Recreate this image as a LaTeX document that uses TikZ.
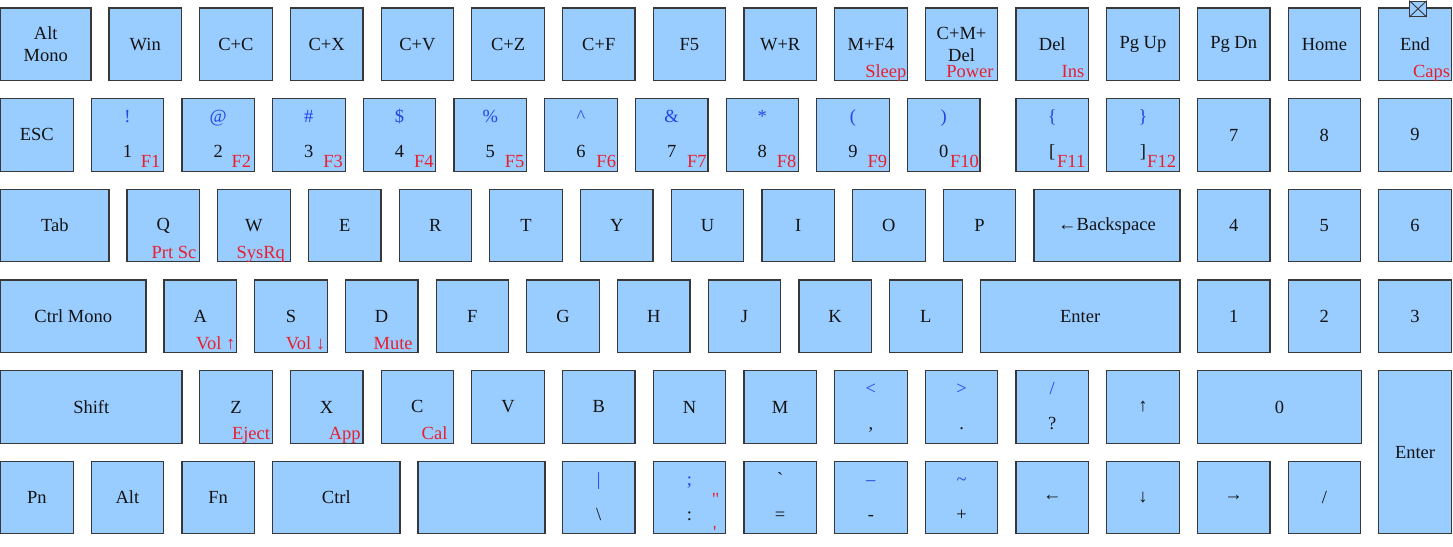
\documentclass[tikz,border=0pt]{standalone}
\usepackage{fontspec}
\setmainfont{Liberation Serif}
\definecolor{keyfill}{HTML}{99CCFF}
\definecolor{keyline}{HTML}{383838}
\definecolor{keytext}{HTML}{141414}
\definecolor{keyred}{HTML}{E8202E}
\definecolor{keyblue}{HTML}{2244E6}
\tikzset{
  key/.style={draw=keyline, fill=keyfill, line width=1.2pt, anchor=north west,
    inner sep=0pt, outer sep=0pt, align=center,
    font=\fontsize{18.5}{22}\selectfont, text=keytext},
  redtxt/.style={font=\fontsize{18.5}{22}\selectfont, text=keyred, inner sep=0pt},
  bluetxt/.style={font=\fontsize{18.5}{22}\selectfont, text=keyblue, inner sep=0pt},
  blktxt/.style={font=\fontsize{18.5}{22}\selectfont, text=keytext, inner sep=0pt},
}
% key: name, x, y, width, height, text
\newcommand\kk[6]{\node[key,minimum width=#4pt,minimum height=#5pt] (#1) at (#2,#3) {#6};}
\newcommand\ks[4]{\kk{#1}{#2}{#3}{72.5}{72.5}{#4}}
% red label at bottom right
\newcommand\rl[3][2]{\node[redtxt,anchor=base east] (#2-r) at ([shift={(-#1pt,3.5pt)}]#2.south east) {#3};}
% top (blue) and bottom (black) symbols
\newcommand\ts[2]{\node[bluetxt,anchor=base] (#1-t) at ([yshift=-24pt]#1.north) {#2};}
\newcommand\tb[2]{\node[blktxt,anchor=base] (#1-t) at ([yshift=-24pt]#1.north) {#2};}
\newcommand\bs[2]{\node[blktxt,anchor=base] (#1-b) at ([yshift=-59pt]#1.north) {#2};}
\begin{document}
\begin{tikzpicture}[x=1pt,y=-1pt]
\useasboundingbox (0,0) rectangle (1453,546);
% ---------- row 1 ----------
\kk{altmono}{0.6}{8}{90.4}{72.5}{Alt\\Mono}
\ks{win}{109}{8}{Win}
\ks{cc}{109+90.7}{8}{C+C}
\ks{cx}{109+90.7*2}{8}{C+X}
\ks{cv}{109+90.7*3}{8}{C+V}
\ks{cz}{109+90.7*4}{8}{C+Z}
\ks{cf}{109+90.7*5}{8}{C+F}
\ks{ffive}{109+90.7*6}{8}{F5}
\ks{wr}{109+90.7*7}{8}{W+R}
\ks{mf}{109+90.7*8}{8}{M+F4}
\ks{cmd}{109+90.7*9}{8}{C+M+\\Del}
\ks{del}{109+90.7*10}{8}{Del}
\ks{pgup}{109+90.7*11}{8}{Pg Up}
\ks{pgdn}{109+90.7*12}{8}{Pg Dn}
\ks{home}{109+90.7*13}{8}{Home}
\ks{end}{109+90.7*14}{8}{End}
\rl[0.5]{mf}{Sleep}
\rl[4]{cmd}{Power}
\rl[4]{del}{Ins}
\rl[1]{end}{Caps}
\node[draw=keyline, fill=keyfill, line width=1pt, minimum width=16.5pt, minimum height=15.5pt,
  anchor=north west, inner sep=0pt] (env) at (1409.3,0.6) {};
\draw[keyline, line width=0.9pt] (env.north west) -- (env.south east) (env.north east) -- (env.south west);
% ---------- row 2 ----------
\ks{esc}{0.6}{98.7}{ESC}
\ks{n1}{0.5+90.7}{98.7}{}
\ks{n2}{0.5+90.7*2}{98.7}{}
\ks{n3}{0.5+90.7*3}{98.7}{}
\ks{n4}{0.5+90.7*4}{98.7}{}
\ks{n5}{0.5+90.7*5}{98.7}{}
\ks{n6}{0.5+90.7*6}{98.7}{}
\ks{n7}{0.5+90.7*7}{98.7}{}
\ks{n8}{0.5+90.7*8}{98.7}{}
\ks{n9}{0.5+90.7*9}{98.7}{}
\ks{n0}{0.5+90.7*10}{98.7}{}
\ks{lbr}{109+90.7*10}{98.7}{}
\ks{rbr}{109+90.7*11}{98.7}{}
\ks{pseven}{109+90.7*12}{98.7}{7}
\ks{peight}{109+90.7*13}{98.7}{8}
\ks{pnine}{109+90.7*14}{98.7}{9}
\ts{n1}{!}\bs{n1}{1}\rl[3]{n1}{F1}
\ts{n2}{@}\bs{n2}{2}\rl[3]{n2}{F2}
\ts{n3}{\#}\bs{n3}{3}\rl{n3}{F3}
\ts{n4}{\$}\bs{n4}{4}\rl{n4}{F4}
\ts{n5}{\%}\bs{n5}{5}\rl{n5}{F5}
\ts{n6}{\textasciicircum}\bs{n6}{6}\rl[1]{n6}{F6}
\ts{n7}{\&}\bs{n7}{7}\rl[1]{n7}{F7}
\ts{n8}{*}\bs{n8}{8}\rl{n8}{F8}
\ts{n9}{(}\bs{n9}{9}\rl{n9}{F9}
\ts{n0}{)}\bs{n0}{0}\rl[1]{n0}{F10}
\ts{lbr}{\{}\bs{lbr}{[}\rl[3]{lbr}{F11}
\ts{rbr}{\}}\bs{rbr}{]}\rl[3]{rbr}{F12}
% ---------- row 3 ----------
\kk{tab}{0.6}{189.3}{108.4}{72.5}{Tab}
\ks{q}{127}{189.3}{Q}
\ks{w}{127+90.7}{189.3}{W}
\ks{e}{127+90.7*2}{189.3}{E}
\ks{r}{127+90.7*3}{189.3}{R}
\ks{t}{127+90.7*4}{189.3}{T}
\ks{y}{127+90.7*5}{189.3}{Y}
\ks{u}{127+90.7*6}{189.3}{U}
\ks{i}{127+90.7*7}{189.3}{I}
\ks{o}{127+90.7*8}{189.3}{O}
\ks{p}{127+90.7*9}{189.3}{P}
\kk{bksp}{127+90.7*10}{189.3}{146}{72.5}{←Backspace}
\ks{pfour}{109+90.7*12}{189.3}{4}
\ks{pfive}{109+90.7*13}{189.3}{5}
\ks{psix}{109+90.7*14}{189.3}{6}
\rl[3]{q}{Prt Sc}
\rl[5]{w}{SysRq}
% ---------- row 4 ----------
\kk{ctrlmono}{0.6}{280}{145.4}{72.5}{Ctrl Mono}
\ks{a}{164}{280}{A}
\ks{s}{164+90.7}{280}{S}
\ks{d}{164+90.7*2}{280}{D}
\ks{f}{164+90.7*3}{280}{F}
\ks{g}{164+90.7*4}{280}{G}
\ks{h}{164+90.7*5}{280}{H}
\ks{j}{164+90.7*6}{280}{J}
\ks{k}{164+90.7*7}{280}{K}
\ks{l}{164+90.7*8}{280}{L}
\kk{enter}{164+90.7*9}{280}{199.7}{72.5}{Enter}
\ks{pone}{109+90.7*12}{280}{1}
\ks{ptwo}{109+90.7*13}{280}{2}
\ks{pthree}{109+90.7*14}{280}{3}
\rl[1]{a}{Vol ↑}
\rl[2]{s}{Vol ↓}
\rl[5]{d}{Mute}
% ---------- row 5 ----------
\kk{shift}{0.6}{370.7}{181.4}{72.5}{Shift}
\ks{z}{109+90.7}{370.7}{Z}
\ks{x}{109+90.7*2}{370.7}{X}
\ks{c}{109+90.7*3}{370.7}{C}
\ks{v}{109+90.7*4}{370.7}{V}
\ks{b}{109+90.7*5}{370.7}{B}
\ks{n}{109+90.7*6}{370.7}{N}
\ks{m}{109+90.7*7}{370.7}{M}
\ks{comma}{109+90.7*8}{370.7}{}
\ks{period}{109+90.7*9}{370.7}{}
\ks{slash}{109+90.7*10}{370.7}{}
\ks{up}{109+90.7*11}{370.7}{↑}
\kk{pzero}{109+90.7*12}{370.7}{164.3}{72.5}{0}
\kk{penter}{109+90.7*14}{370.7}{72.5}{163.1}{Enter}
\rl{z}{Eject}
\rl{x}{App}
\rl[6]{c}{Cal}
\ts{comma}{<}\bs{comma}{,}
\ts{period}{>}\bs{period}{.}
\ts{slash}{/}\bs{slash}{?}
% ---------- row 6 ----------
\ks{pn}{0.6}{461.3}{Pn}
\ks{alt}{0.5+90.7}{461.3}{Alt}
\ks{fn}{0.5+90.7*2}{461.3}{Fn}
\kk{ctrl}{0.5+90.7*3}{461.3}{127.4}{72.5}{Ctrl}
\kk{space}{418}{461.3}{127}{72.5}{}
\ks{bslash}{109+90.7*5}{461.3}{}
\ks{semi}{109+90.7*6}{461.3}{}
\ks{grave}{109+90.7*7}{461.3}{}
\ks{minus}{109+90.7*8}{461.3}{}
\ks{tilde}{109+90.7*9}{461.3}{}
\ks{left}{109+90.7*10}{461.3}{←}
\ks{down}{109+90.7*11}{461.3}{↓}
\ks{right}{109+90.7*12}{461.3}{→}
\ks{pslash}{109+90.7*13}{461.3}{/}
\ts{bslash}{\textbar}\bs{bslash}{\textbackslash}
\ts{semi}{;}\bs{semi}{:}
\node[redtxt,anchor=base] (semi-q) at ([shift={(-10pt,-44pt)}]semi.north east) {\textquotedbl};
\node[redtxt,anchor=base] (semi-a) at ([shift={(-11pt,-77pt)}]semi.north east) {\textquotesingle};
\tb{grave}{\textasciigrave}\bs{grave}{=}
\ts{minus}{\textendash}\bs{minus}{-}
\ts{tilde}{\textasciitilde}\bs{tilde}{+}
\end{tikzpicture}
\end{document}
